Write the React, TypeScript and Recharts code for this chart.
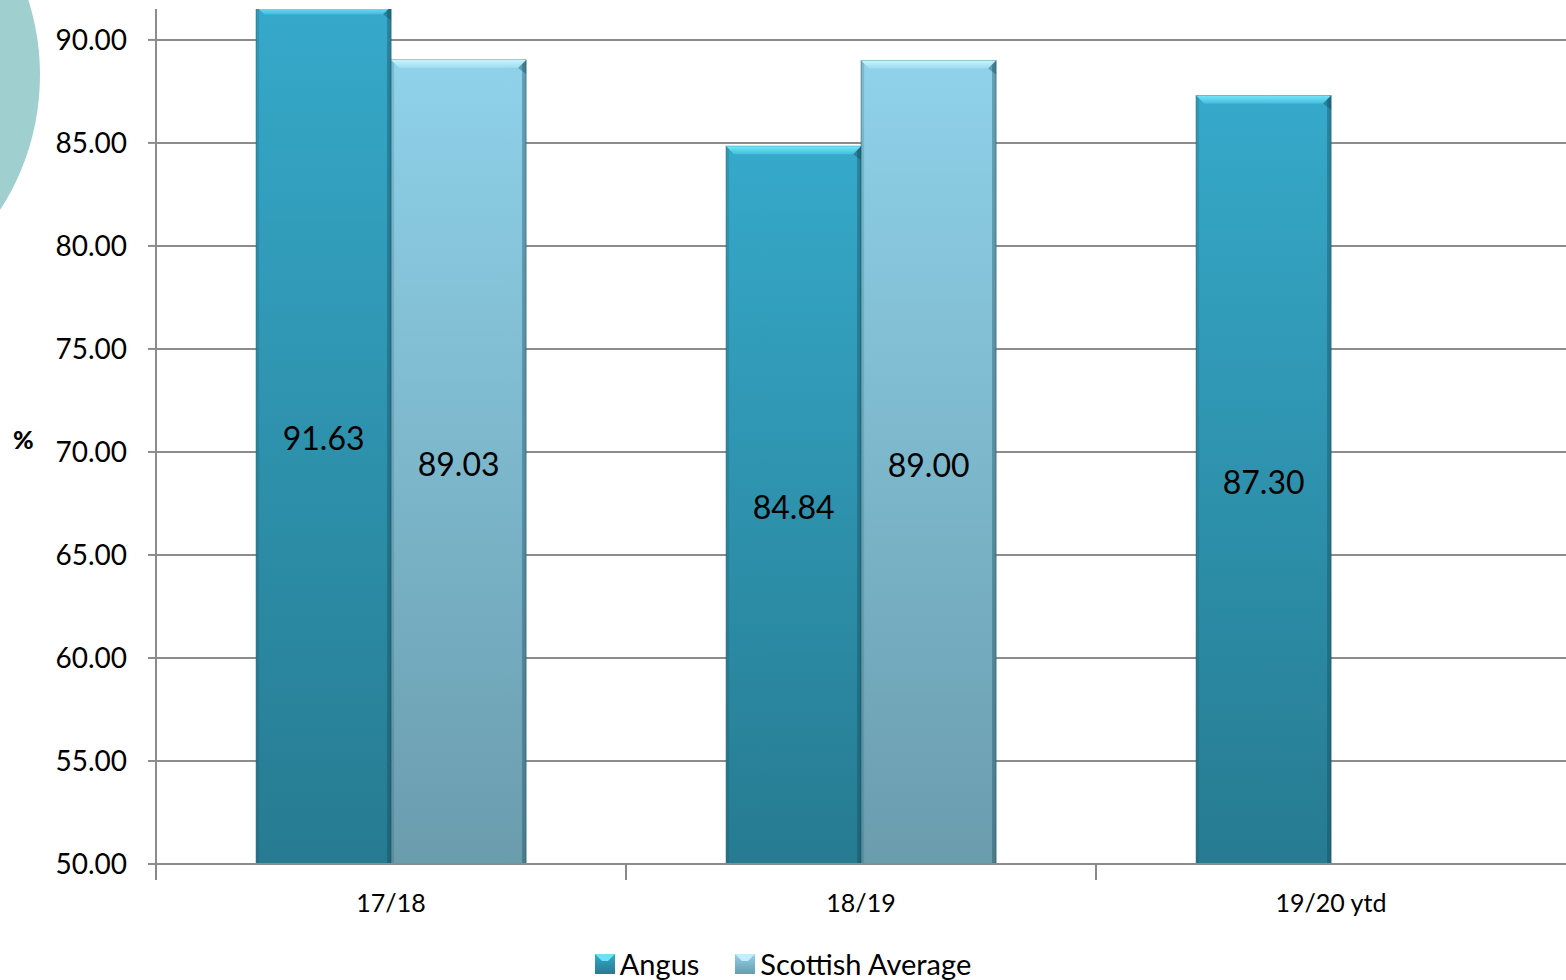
import React from 'react';
import { BarChart, Bar, XAxis, YAxis, CartesianGrid, Legend, LabelList } from 'recharts';

const categories = ['17/18', '18/19', '19/20 ytd'];
const angus = [91.63, 84.84, 87.3];
const scottish: (number | null)[] = [89.03, 89.0, null];
const yTicks = [50, 55, 60, 65, 70, 75, 80, 85, 90];

const data = categories.map((c, i) => ({ name: c, angus: angus[i], scottish: scottish[i] }));

const W = 1566;
const H = 980;
const LEFT = 156;
const FONT = 'Lato, "Open Sans", sans-serif';
const HALF_BAND = (W - LEFT) / categories.length / 2;

const makeShape = (id: string) => (props: any) => {
  const { x, y, width, height } = props;
  if (height == null || height <= 0) return null;
  const bev = 8;
  return (
    <g>
      <rect x={x} y={y} width={width} height={height} fill={`url(#${id})`} stroke="#1f5566" strokeOpacity={0.55} strokeWidth={1} />
      <rect x={x + width - 4} y={y} width={4} height={height} fill="#0d3e4c" opacity={0.35} />
      <rect x={x} y={y} width={3} height={height} fill="#0d3e4c" opacity={0.15} />
      <polygon
        points={`${x},${y} ${x + width},${y} ${x + width - bev},${y + bev} ${x + bev},${y + bev}`}
        fill={`url(#${id}-top)`}
      />
      <polygon
        points={`${x + width},${y} ${x + width},${y + bev + 6} ${x + width - bev},${y + bev}`}
        fill="#0d3e4c"
        opacity={0.35}
      />
    </g>
  );
};

const XTick = (props: any) => {
  const { x, y, payload } = props;
  return (
    <g>
      <line x1={x - HALF_BAND} y1={y - 8} x2={x - HALF_BAND} y2={y + 8} stroke="#888" strokeWidth={2} />
      <text x={x} y={y + 40} textAnchor="middle" fontSize={25} fontFamily={FONT} fill="#000">
        {payload.value}
      </text>
    </g>
  );
};

const LegendContent = () => (
  <div style={{ display: 'flex', justifyContent: 'center', alignItems: 'center', fontFamily: FONT, fontSize: 29, color: '#000', paddingTop: 22 }}>
    <svg width={20} height={20} style={{ marginRight: 5 }}>
      <rect x={0} y={0} width={20} height={20} fill="url(#gA)" />
      <polygon points="0,0 20,0 13,7 7,7" fill="#6fe0f8" />
    </svg>
    <span style={{ marginRight: 36 }}>Angus</span>
    <svg width={20} height={20} style={{ marginRight: 5 }}>
      <rect x={0} y={0} width={20} height={20} fill="url(#gS)" />
      <polygon points="0,0 20,0 13,7 7,7" fill="#c2eefb" />
    </svg>
    <span>Scottish Average</span>
  </div>
);

export default function App() {
  return (
    <div style={{ position: 'absolute', left: 0, top: 0, width: W, height: H, overflow: 'hidden', background: '#fff' }}>
      <div
        style={{
          position: 'absolute',
          left: -456,
          top: 75 - 248,
          width: 496,
          height: 496,
          borderRadius: '50%',
          background: '#9fcfce',
        }}
      />
      <div style={{ position: 'absolute', left: 13, top: 424, fontFamily: FONT, fontWeight: 900, fontSize: 25 }}>%</div>
      <div style={{ position: 'absolute', left: 0, top: 0 }}>
        <BarChart width={W} height={H} data={data} margin={{ top: 9, right: 0, bottom: 0, left: 0 }} barCategoryGap="21.3%" barGap={0}>
          <defs>
            <linearGradient id="gA" x1="0" y1="0" x2="0" y2="1">
              <stop offset="0%" stopColor="#36a9ca" />
              <stop offset="100%" stopColor="#267b91" />
            </linearGradient>
            <linearGradient id="gA-top" x1="0" y1="0" x2="0" y2="1">
              <stop offset="0%" stopColor="#72e6fb" />
              <stop offset="100%" stopColor="#45bedd" />
            </linearGradient>
            <linearGradient id="gS" x1="0" y1="0" x2="0" y2="1">
              <stop offset="0%" stopColor="#8fd2ea" />
              <stop offset="100%" stopColor="#6a9cad" />
            </linearGradient>
            <linearGradient id="gS-top" x1="0" y1="0" x2="0" y2="1">
              <stop offset="0%" stopColor="#c8f3fd" />
              <stop offset="100%" stopColor="#9cdcf0" />
            </linearGradient>
          </defs>
          <CartesianGrid vertical={false} stroke="#8c8c8c" strokeWidth={2} horizontalValues={yTicks} />
          <XAxis
            dataKey="name"
            height={60}
            axisLine={{ stroke: '#8c8c8c', strokeWidth: 2 }}
            tickLine={false}
            tick={<XTick />}
            interval={0}
          />
          <YAxis
            domain={[50, 91.5]}
            ticks={yTicks}
            allowDataOverflow
            width={LEFT}
            tickFormatter={(v: number) => v.toFixed(2)}
            axisLine={{ stroke: '#8c8c8c', strokeWidth: 2 }}
            tickLine={{ stroke: '#8c8c8c', strokeWidth: 2 }}
            tickSize={8}
            tick={{ fontSize: 28, fontFamily: FONT, fill: '#000' }}
            tickMargin={21}
          />
          <Legend verticalAlign="bottom" height={56} content={<LegendContent />} />
          <Bar dataKey="angus" name="Angus" fill="#36a9ca" shape={makeShape('gA')} isAnimationActive={false}>
            <LabelList dataKey="angus" position="center" offset={0} formatter={(v: number) => v.toFixed(2)} style={{ fontSize: 32, fontFamily: FONT, fill: '#000', transform: 'translateY(3px)' }} />
          </Bar>
          <Bar dataKey="scottish" name="Scottish Average" fill="#8fd2ea" shape={makeShape('gS')} isAnimationActive={false}>
            <LabelList dataKey="scottish" position="center" offset={0} formatter={(v: any) => (v == null ? '' : Number(v).toFixed(2))} style={{ fontSize: 32, fontFamily: FONT, fill: '#000', transform: 'translateY(3px)' }} />
          </Bar>
        </BarChart>
      </div>
    </div>
  );
}
